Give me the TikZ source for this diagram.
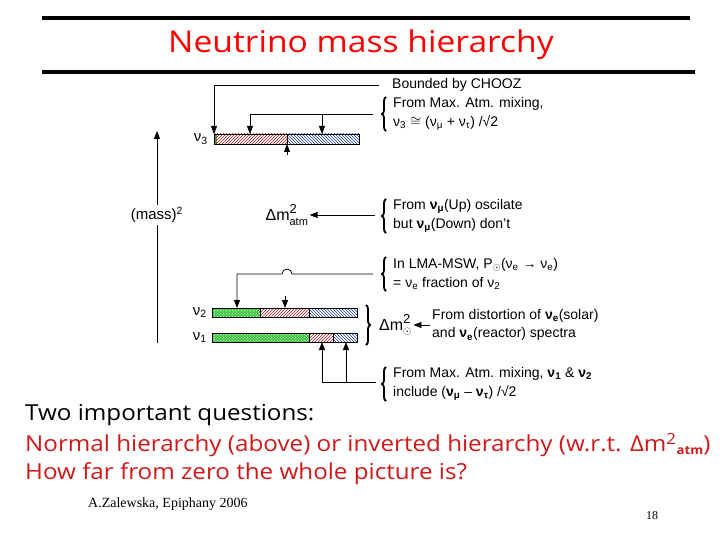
\documentclass[tikz,border=0pt]{standalone}
\usepackage{fontspec}
\setmainfont{Liberation Sans}
\newfontfamily\casual[FakeStretch=1.1]{Open Sans}
\newfontfamily\casualt[FakeStretch=1.12]{Open Sans}
\newfontfamily\serifn{Liberation Serif}
\usetikzlibrary{arrows.meta,patterns,decorations.pathreplacing}
\definecolor{hred}{HTML}{B01818}
\definecolor{hblue}{HTML}{1A3E9A}
\definecolor{hgreen}{HTML}{3CC83C}
\definecolor{qred}{HTML}{D01818}
\newcommand{\nuv}[1]{ν\textsubscript{#1}}
\newcommand{\nub}[1]{\textbf{ν\textsubscript{#1}}}
\begin{document}
\begin{tikzpicture}[x=1pt,y=-1pt,
  lbl/.style={font=\fontsize{14}{18.5}\selectfont, align=left, anchor=west, inner sep=0pt},
  arr/.style={-{Triangle[length=8pt,width=6pt]}, line width=0.8pt},
  redbar/.style={draw=black, line width=0.6pt, pattern=north east lines, pattern color=hred},
  bluebar/.style={draw=black, line width=0.6pt, pattern=north west lines, pattern color=hblue},
  brc/.style={decorate, decoration={brace, amplitude=4pt}, line width=1.8pt},
  nulabel/.style={font=\fontsize{15}{15}\selectfont, anchor=east, inner sep=0pt}
]
\useasboundingbox (0,0) rectangle (720,540);
% title rules and title
\fill (42,16.5) rectangle (690,20.5);
\fill (42,70.5) rectangle (695,74.5);
\node[font=\casualt\fontsize{30}{30}\selectfont, text=red] (title) at (361,45) {Neutrino mass hierarchy};

% mass axis
\coordinate (axbot) at (157,343);
\coordinate (axtop) at (157,131);
\draw[arr] (axbot) -- (axtop);
\node[fill=white, font=\fontsize{15}{15}\selectfont, inner sep=2pt] (mass) at (157,215) {(mass)\textsuperscript{2}};

% nu3 bar
\fill[hgreen] (214,134) rectangle (216.5,144);
\path[redbar] (214,134) rectangle (287,144);
\path[bluebar] (287,134) rectangle (359,144);
\node[nulabel] (n3) at (208,139) {\nuv{3}};
% nu2 bar
\fill[hgreen] (212,308) rectangle (260,317);
\fill[pattern=crosshatch dots, pattern color=white] (212,308) rectangle (260,317);
\draw[line width=0.6pt] (212,308) rectangle (260,317);
\path[redbar] (260,308) rectangle (309,317);
\path[bluebar] (309,308) rectangle (357,317);
\node[nulabel] (n2) at (207,312.5) {\nuv{2}};
% nu1 bar
\fill[hgreen] (212,333) rectangle (309,342);
\fill[pattern=crosshatch dots, pattern color=white] (212,333) rectangle (309,342);
\draw[line width=0.6pt] (212,333) rectangle (309,342);
\path[redbar] (309,333) rectangle (333,342);
\path[bluebar] (333,333) rectangle (357,342);
\node[nulabel] (n1) at (207,337.5) {\nuv{1}};

% coordinates on bars
\coordinate (v3a) at (214,134);
\coordinate (v3b) at (250,134);
\coordinate (v3c) at (322,134);
\coordinate (v3d) at (287,144);
\coordinate (v2a) at (237,308);
\coordinate (v2b) at (285,308);
\coordinate (v1a) at (322,342);
\coordinate (v1b) at (346,342);

% Bounded by CHOOZ
\node[lbl] (chooz) at (392,85) {Bounded by CHOOZ};
\draw[arr] ([xshift=-13pt]chooz.west) -| (v3a);

% Max atm mixing nu3
\node[lbl] (t1) at (393,114) {From Max. Atm. mixing,\\\nuv{3} $\cong$ (\nuv{μ} + \nuv{τ}) /√2};
\draw[brc] (386,131) -- (386,97);
\coordinate (b1) at (373,114);
\draw[arr] (b1) -| (v3b);
\coordinate (b1m) at (322,114);
\draw[arr] (b1m) -- (v3c);
\coordinate (u3) at (287,155);
\draw[arr] (u3) -- (v3d);

% Delta m^2 atm
\node[font=\fontsize{16}{16}\selectfont, inner sep=1pt] (dmatm) at (287,215) {$\mbox{Δm}^{\mbox{\fontsize{13}{13}\selectfont 2}}_{\mbox{\fontsize{11}{11}\selectfont atm}}$};
\node[lbl] (t2) at (393,216) {From \nub{μ}(Up) oscilate\\but \nub{μ}(Down) don't};
\draw[brc] (386,233) -- (386,199);
\coordinate (b2) at (375,215);
\draw[arr] (b2) -- (dmatm.east);

% LMA-MSW
\node[lbl] (t3) at (393,274) {In LMA-MSW, P$_{\odot}$(\nuv{e} → \nuv{e})\\= \nuv{e} fraction of \nuv{2}};
\draw[brc] (386,291) -- (386,257);
\coordinate (b3) at (373,274);
\draw[arr] (b3) -- (292,274) arc (0:-180:5) -- (237,274) -- (v2a);
\coordinate (u2) at (285,296);
\draw[arr] (u2) -- (v2b);

% Delta m^2 solar
\draw[brc] (366,305) -- (366,345);
\node[font=\fontsize{16}{16}\selectfont, inner sep=1pt, anchor=west] (dmsol) at (378,325) {$\mbox{Δm}^{\mbox{\fontsize{13}{13}\selectfont 2}}_{\odot}$};
\node[lbl] (tsol) at (432,325) {From distortion of \nub{e}(solar)\\and \nub{e}(reactor) spectra};
\draw[arr] ([xshift=-2pt]tsol.west) -- (dmsol.east);

% Max atm mixing nu1 nu2
\node[lbl] (t4) at (393,384) {From Max. Atm. mixing, \nub{1} \& \nub{2}\\include (\nub{μ} – \nub{τ}) /√2};
\draw[brc] (386,401) -- (386,367);
\coordinate (b4) at (376,382);
\draw[arr] (b4) -| (v1a);
\coordinate (b4m) at (346,382);
\draw[arr] (b4m) -- (v1b);

% questions
\node[font=\casual\fontsize{22}{22}\selectfont, anchor=west, inner sep=0pt] (q0) at (25,415) {Two important questions:};
\node[font=\casual\fontsize{22}{22}\selectfont, anchor=west, inner sep=0pt, text=qred] (q1) at (25,445) {Normal hierarchy (above) or inverted hierarchy (w.r.t. Δm\textsuperscript{2}\raisebox{-3pt}{\fontsize{12}{12}\selectfont\bfseries atm})};
\node[font=\casual\fontsize{22}{22}\selectfont, anchor=west, inner sep=0pt, text=qred] (q2) at (25,474) {How far from zero the whole picture is?};

\node[font=\serifn\fontsize{14}{14}\selectfont, anchor=west, inner sep=0pt] (auth) at (88,504) {A.Zalewska, Epiphany 2006};
\node[font=\serifn\fontsize{12}{12}\selectfont, inner sep=0pt] (pg) at (652,516) {18};
\end{tikzpicture}
\end{document}
